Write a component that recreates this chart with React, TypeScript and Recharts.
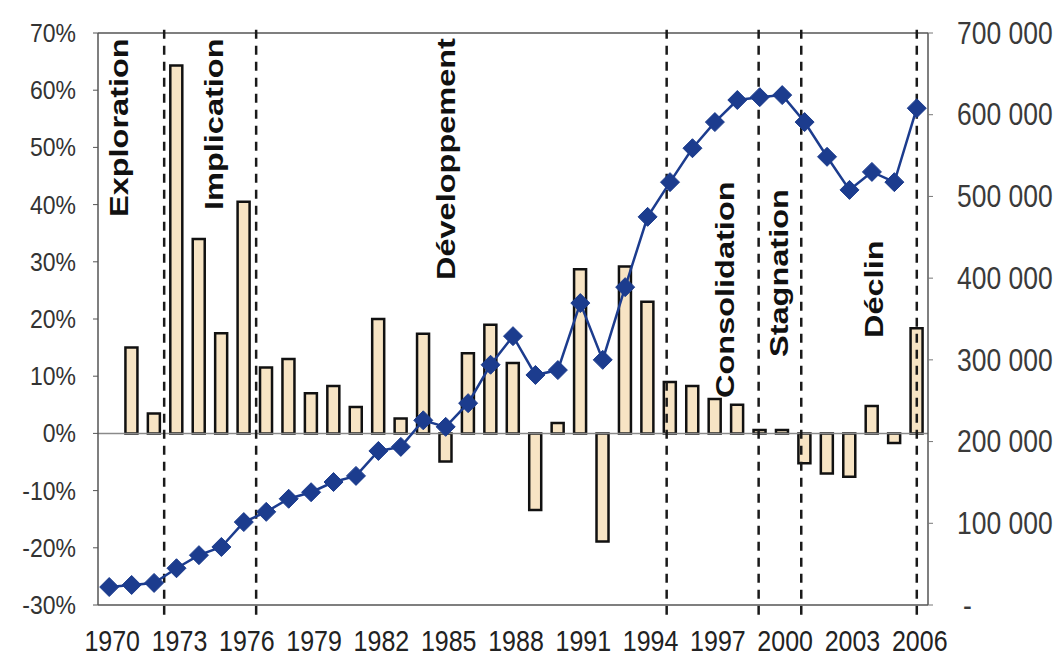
import React from 'react';
import { ComposedChart, Bar, Line, XAxis, YAxis, ReferenceLine } from 'recharts';

const years = [
  '1970', '1971', '1972', '1973', '1974', '1975', '1976', '1977', '1978', '1979',
  '1980', '1981', '1982', '1983', '1984', '1985', '1986', '1987', '1988', '1989',
  '1990', '1991', '1992', '1993', '1994', '1995', '1996', '1997', '1998', '1999',
  '2000', '2001', '2002', '2003', '2004', '2005', '2006',
];

// annual growth rate, % (left axis) - no value for the first year
const growth = [
  null, 15, 3.5, 64.3, 34, 17.5, 40.5, 11.5, 13, 7,
  8.3, 4.6, 20, 2.6, 17.4, -4.9, 14, 19, 12.3, -13.4,
  1.8, 28.7, -18.9, 29.2, 23, 9, 8.3, 6, 5, 0.6,
  0.6, -5.2, -7, -7.6, 4.8, -1.7, 18.4,
];

// volume (right axis)
const volume = [
  22000, 24500, 27000, 45000, 61000, 71000, 101500, 114000, 130000, 138000,
  150500, 158000, 188500, 193500, 226000, 218000, 247000, 294000, 329000, 281500,
  287500, 369500, 300000, 389000, 475000, 517500, 559000, 591000, 618000, 621500,
  624000, 591000, 548500, 508000, 530000, 517500, 608000,
];

const pctTicks = [-30, -20, -10, 0, 10, 20, 30, 40, 50, 60, 70];
const volTicks = [0, 100000, 200000, 300000, 400000, 500000, 600000, 700000];

// phase boundaries (fractional year position on the category axis)
const phaseBreaks = [1972.45, 1976.55, 1994.85, 1998.95, 2000.85, 2006.0];
const phaseNames = ['Exploration', 'Implication', 'Développement', 'Consolidation', 'Stagnation', 'Déclin'];

const data = years.map((y, i) => ({ year: y, yearNum: Number(y), growth: growth[i], volume: volume[i] }));

const W = 1064;
const H = 657;
const PLOT_L = 98;
const PLOT_R = 928;
const PLOT_T = 33;
const PLOT_B = 605;

const FONT = '"Liberation Sans", Arial, sans-serif';
const STRETCH = 1.15;

const fmtVol = (v: number) => (v === 0 ? '-' : String(v).replace(/\B(?=(\d{3})+(?!\d))/g, ' '));

const LeftTick = ({ x, y, payload }: any) => (
  <text
    x={x}
    y={y}
    textAnchor="end"
    dominantBaseline="central"
    fontSize={23}
    fill="#333"
    fontFamily={FONT}
    transform={`translate(0 ${y}) scale(1 ${STRETCH}) translate(0 ${-y})`}
  >
    {payload.value}%
  </text>
);

const RightTick = ({ y, payload }: any) => (
  <text
    x={PLOT_R + 29 + (payload.value === 0 ? 6 : 0)}
    y={y}
    textAnchor="start"
    dominantBaseline="central"
    fontSize={26.5}
    fill="#3a3a3a"
    fontFamily={FONT}
    transform={`translate(0 ${y}) scale(1 ${STRETCH}) translate(0 ${-y})`}
  >
    {fmtVol(payload.value)}
  </text>
);

const BASE = PLOT_B + 46;
const BottomTick = ({ x, payload }: any) => (
  <text
    x={x + 3}
    y={BASE}
    textAnchor="middle"
    fontSize={25}
    fill="#222"
    fontFamily={FONT}
    transform={`translate(0 ${BASE}) scale(1 ${STRETCH}) translate(0 ${-BASE})`}
  >
    {payload.value}
  </text>
);

const Diamond = ({ cx, cy }: any) => {
  if (cx == null || cy == null) return null;
  const r = 9.5;
  return (
    <path
      d={`M${cx},${cy - r}L${cx + r},${cy}L${cx},${cy + r}L${cx - r},${cy}Z`}
      fill="#1c3c8e"
      stroke="#1c3c8e"
    />
  );
};

// phase labels, drawn vertically (bottom edge y, baseline x)
const labelPos = [
  { x: 128, y: 217 },
  { x: 223, y: 210 },
  { x: 455, y: 280 },
  { x: 734, y: 398 },
  { x: 788, y: 357 },
  { x: 883, y: 338 },
];

export default function App() {
  return (
    <div style={{ position: 'absolute', left: 0, top: 0, width: W, height: H, background: '#fff' }}>
      <ComposedChart
        width={W}
        height={H}
        data={data}
        margin={{ top: PLOT_T, right: 0, bottom: 0, left: 0 }}
        barCategoryGap={0}
      >
        <XAxis
          xAxisId="cat"
          dataKey="year"
          interval={2}
          height={H - PLOT_B}
          tickLine={false}
          tickSize={0}
          axisLine={{ stroke: '#555', strokeWidth: 1.5 }}
          tick={<BottomTick />}
        />
        <XAxis
          xAxisId="pos"
          dataKey="yearNum"
          type="number"
          domain={[1969.5, 2006.5]}
          allowDataOverflow
          hide
        />
        <YAxis
          yAxisId="pct"
          orientation="left"
          width={PLOT_L}
          domain={[-30, 70]}
          ticks={pctTicks}
          interval={0}
          tickSize={5}
          tickMargin={17}
          axisLine={{ stroke: '#555', strokeWidth: 1.5 }}
          tickLine={{ stroke: '#555' }}
          tick={<LeftTick />}
        />
        <YAxis
          yAxisId="vol"
          orientation="right"
          width={W - PLOT_R}
          domain={[0, 700000]}
          ticks={volTicks}
          interval={0}
          tickSize={5}
          axisLine={{ stroke: '#555', strokeWidth: 1.5 }}
          tickLine={{ stroke: '#777' }}
          tick={<RightTick />}
        />
        <ReferenceLine xAxisId="cat" yAxisId="pct" y={70} stroke="#555" strokeWidth={1.5} />
        <ReferenceLine xAxisId="cat" yAxisId="pct" y={0} stroke="#8a8a8a" strokeWidth={1.5} />
        {phaseBreaks.map((b) => (
          <ReferenceLine
            key={b}
            xAxisId="pos"
            yAxisId="pct"
            segment={[{ x: b, y: -31.7 }, { x: b, y: 70.6 }]}
            ifOverflow="visible"
            stroke="#1a1a1a"
            strokeWidth={2.5}
            strokeDasharray="9 7"
          />
        ))}
        <Bar
          xAxisId="cat"
          yAxisId="pct"
          dataKey="growth"
          barSize={12}
          fill="#f7e4c4"
          stroke="#111"
          strokeWidth={2.5}
          isAnimationActive={false}
        />
        <Line
          xAxisId="cat"
          yAxisId="vol"
          dataKey="volume"
          type="linear"
          stroke="#1c3c8e"
          strokeWidth={2.5}
          dot={<Diamond />}
          activeDot={false}
          isAnimationActive={false}
        />
      </ComposedChart>
      <svg
        width={W}
        height={H}
        style={{ position: 'absolute', left: 0, top: 0, pointerEvents: 'none' }}
      >
        {phaseNames.map((name, i) => (
          <text
            key={name}
            transform={`translate(${labelPos[i].x} ${labelPos[i].y}) rotate(-90) scale(1.3 1)`}
            textAnchor="start"
            fontSize={25}
            fontWeight="bold"
            fill="#111"
            fontFamily={FONT}
          >
            {name}
          </text>
        ))}
      </svg>
    </div>
  );
}
